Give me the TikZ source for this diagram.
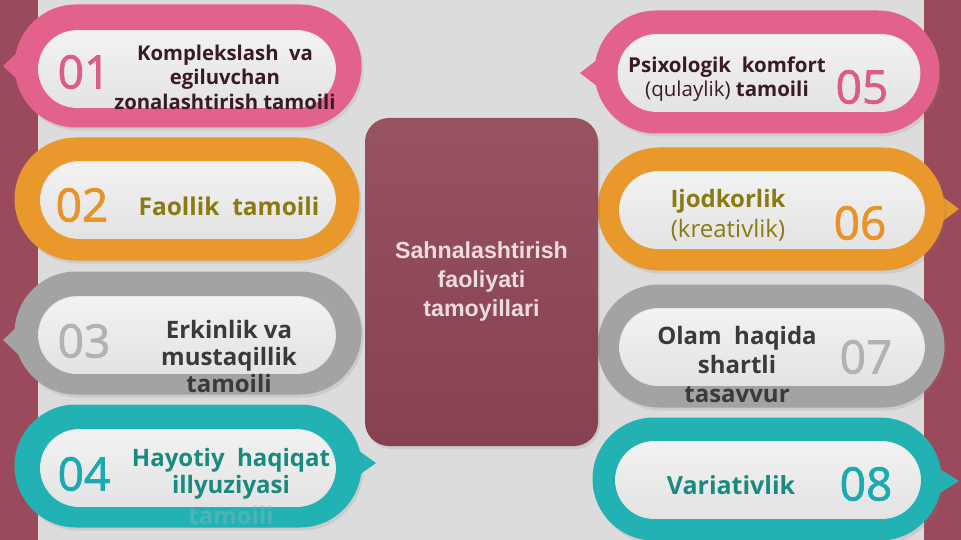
\documentclass[tikz,border=0pt]{standalone}
\usepackage{fontspec}
\setmainfont{Open Sans}
\newfontfamily\arialf{Liberation Sans}
\newfontfamily\numfont[FakeBold=1.6]{Open Sans}
\usetikzlibrary{shapes.misc,shadows}
\definecolor{bgc}{HTML}{DCDCDC}
\definecolor{maroonc}{HTML}{9A4A5A}
\definecolor{ctrc}{HTML}{8E4454}
\definecolor{pinkc}{HTML}{E2628C}
\definecolor{orangec}{HTML}{E9982C}
\definecolor{grayc}{HTML}{A3A3A3}
\definecolor{tealc}{HTML}{22B2B4}
\definecolor{pinkn}{HTML}{DB5C86}
\definecolor{orangen}{HTML}{E8922A}
\definecolor{grayn}{HTML}{B2B2B2}
\definecolor{tealn}{HTML}{1CAAB2}
\definecolor{txtdark}{HTML}{3A1A28}
\definecolor{txtolive}{HTML}{8A7A12}
\definecolor{txtgray}{HTML}{3A3A3A}
\definecolor{txtteal}{HTML}{1A8A80}
\definecolor{ctrtxt}{HTML}{EDDCDD}
\tikzset{
  x=1pt,y=-1pt,
  outerpill/.style={rounded rectangle, minimum width=347pt, minimum height=123pt, inner sep=0pt,
     drop shadow={opacity=0.18, shadow xshift=2pt, shadow yshift=-3pt}},
  innerpill/.style={rounded rectangle, minimum width=297pt, minimum height=77pt, inner sep=0pt,
     top color=gray!10, bottom color=gray!22, draw=white!80!gray, line width=0.8pt},
  numtxt/.style={font=\numfont\fontsize{46}{46}\selectfont, inner sep=0pt},
  lbl/.style={align=center, inner sep=0pt},
}
\begin{document}
\begin{tikzpicture}
\useasboundingbox (0,0) rectangle (961,540);
\fill[bgc] (0,0) rectangle (961,540);
\fill[maroonc] (0,0) rectangle (38,540);
\fill[maroonc] (924,0) rectangle (961,540);
% pointers
\fill[pinkc] (22,48) -- (3,66) -- (22,84) -- cycle;
\fill[grayc] (22,322) -- (3,340) -- (22,358) -- cycle;
\fill[tealc] (352,446) -- (376,463) -- (352,480) -- cycle;
\fill[pinkc] (602,56) -- (580,73) -- (602,90) -- cycle;
\fill[orangec] (936,192) -- (959,209) -- (936,226) -- cycle;
\fill[tealc] (932,464) -- (959,481) -- (932,498) -- cycle;
% left pills
\node[outerpill, fill=pinkc] (o1) at (188,66) {};
\node[innerpill] (i1) at (187,69) {};
\node[outerpill, fill=orangec, minimum width=345pt] (o2) at (187,199) {};
\node[innerpill, minimum width=295pt] (i2) at (188,200) {};
\node[outerpill, fill=grayc] (o3) at (188,333) {};
\node[innerpill] (i3) at (187,335) {};
\node[outerpill, fill=tealc] (o4) at (188,466) {};
\node[innerpill, minimum width=295pt] (i4) at (188,468) {};
% right pills
\node[outerpill, fill=pinkc, minimum width=345pt] (o5) at (767,72) {};
\node[innerpill, minimum width=302pt] (i5) at (769,73) {};
\node[outerpill, fill=orangec] (o6) at (771,209) {};
\node[innerpill, minimum width=305pt] (i6) at (772,210) {};
\node[outerpill, fill=grayc] (o7) at (771,346) {};
\node[innerpill, minimum width=305pt] (i7) at (772,347) {};
\node[outerpill, fill=tealc, minimum width=349pt] (o8) at (767,479) {};
\node[innerpill, minimum width=305pt] (i8) at (768,480) {};
% center
\node[rounded corners=24pt, minimum width=233pt, minimum height=328pt, inner sep=0pt,
      top color=ctrc!92!white, bottom color=ctrc!95!black,
      drop shadow={opacity=0.18, shadow xshift=2pt, shadow yshift=-3pt}] (ctr) at (481.5,282) {};
\node[lbl, text=ctrtxt, font=\arialf\bfseries\fontsize{23.2}{29}\selectfont] (ct) at (ctr) {Sahnalashtirish\\faoliyati\\tamoyillari};
% numbers
\node[numtxt, text=pinkn] (n1) at (84,72) {01};
\node[numtxt, text=orangen] (n2) at (82,205) {02};
\node[numtxt, text=grayn] (n3) at (84,341) {03};
\node[numtxt, text=tealn] (n4) at (84,474) {04};
\node[numtxt, text=pinkn] (n5) at (862,87) {05};
\node[numtxt, text=orangen] (n6) at (860,223) {06};
\node[numtxt, text=grayn] (n7) at (866,357) {07};
\node[numtxt, text=tealn] (n8) at (866,484) {08};
% labels
\node[lbl, text=txtdark, font=\bfseries\fontsize{20.3}{24.5}\selectfont] (t1) at (225,77) {Komplekslash~~va\\egiluvchan\\zonalashtirish tamoili};
\node[lbl, text=txtolive, font=\bfseries\fontsize{24.5}{26}\selectfont] (t2) at (229,206) {Faollik~~tamoili};
\node[lbl, text=txtgray, font=\bfseries\fontsize{24}{27}\selectfont] (t3) at (229,356) {Erkinlik va\\mustaqillik\\tamoili};
\node[lbl, text=txtteal, font=\bfseries\fontsize{24}{27}\selectfont] (t4) at (231,474) {Hayotiy~~haqiqat\\illyuziyasi};
\node[lbl, text=txtteal!60!white, opacity=0.5, font=\bfseries\fontsize{24}{27}\selectfont] (t4b) at (231,515) {tamoili};
\node[lbl, text=txtdark, font=\fontsize{20.5}{23.5}\selectfont] (t5) at (727,79) {\textbf{Psixologik~~komfort}\\(qulaylik) \textbf{tamoili}};
\node[lbl, text=txtolive, font=\fontsize{24}{30}\selectfont] (t6) at (728,215) {\textbf{Ijodkorlik}\\(kreativlik)};
\node[lbl, text=txtgray, font=\bfseries\fontsize{24}{29}\selectfont] (t7) at (737,364) {Olam~~haqida\\shartli\\tasavvur};
\node[lbl, text=txtteal, font=\bfseries\fontsize{25}{26}\selectfont] (t8) at (731,485) {Variativlik};
\end{tikzpicture}
\end{document}
